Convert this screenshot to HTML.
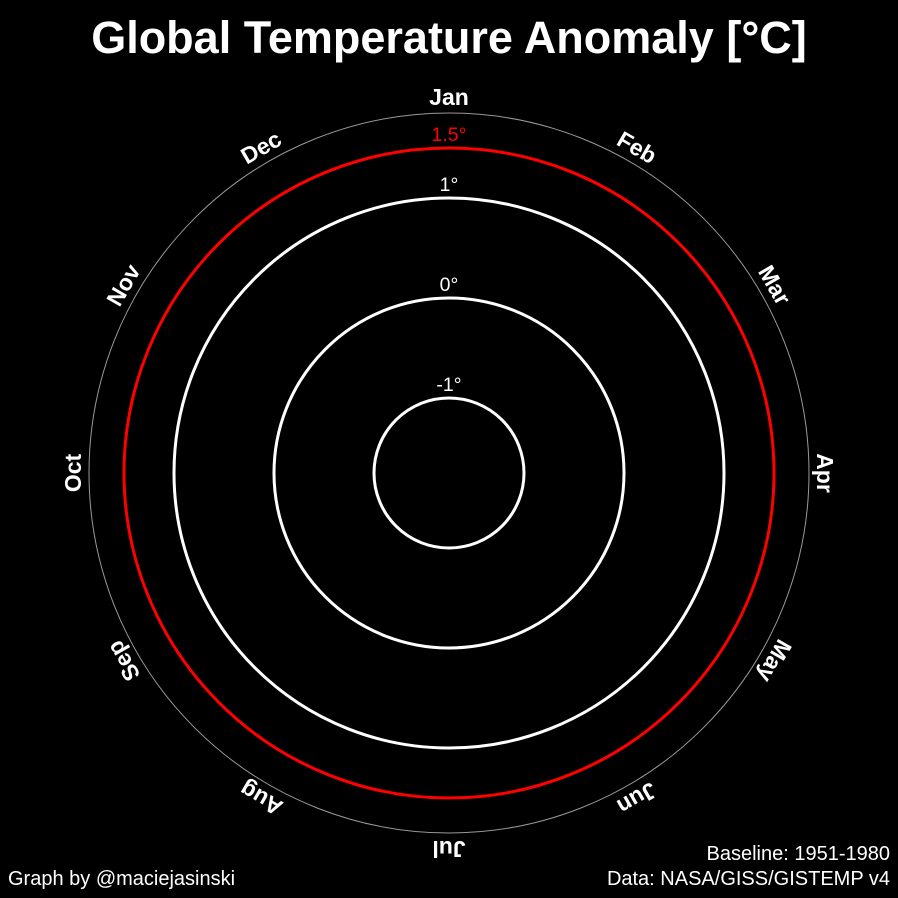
<!DOCTYPE html>
<html><head><meta charset="utf-8"><style>
html,body{margin:0;padding:0;background:#000;}
svg{display:block;font-family:"Liberation Sans",sans-serif;}
</style></head><body>
<svg width="898" height="898" viewBox="0 0 898 898">
<rect width="898" height="898" fill="#000"/>
<text x="449" y="53" text-anchor="middle" fill="#fff" font-size="45" font-weight="bold">Global Temperature Anomaly [°C]</text>
<g id="plot"></g>
<text x="8" y="885" fill="#fff" font-size="20">Graph by @maciejasinski</text>
<text x="890" y="860" text-anchor="end" fill="#fff" font-size="20">Baseline: 1951-1980</text>
<text x="890" y="885" text-anchor="end" fill="#fff" font-size="20">Data: NASA/GISS/GISTEMP v4</text>
</svg>
<script>
const months=["Jan","Feb","Mar","Apr","May","Jun","Jul","Aug","Sep","Oct","Nov","Dec"];
const ringValues=[-1,0,1,1.5];
const ringLabels=["-1°","0°","1°","1.5°"];
const cx=449, cy=473;
const rScale=t=>175+100*t;
const NS="http://www.w3.org/2000/svg";
const g=document.getElementById('plot');
function mk(tag,attrs){const e=document.createElementNS(NS,tag);for(const k in attrs)e.setAttribute(k,attrs[k]);g.appendChild(e);return e;}
const outer=mk('circle',{cx:cx,cy:cy,r:360,fill:'none',stroke:'#999','stroke-width':1});


ringValues.forEach((v,i)=>{
  const r=rScale(v);
  const red=v===1.5;
  const c=mk('circle',{cx:cx,cy:cy,r:r,fill:'none',stroke:red?'#f00':'#fff','stroke-width':3});
  
  
  const t=mk('text',{x:cx,y:cy-r-7,'text-anchor':'middle',fill:red?'#f00':'#fff','font-size':19.5});
  t.textContent=ringLabels[i];
  
  
});
months.forEach((m,i)=>{
  const a=i*30, rad=a*Math.PI/180, R=376;
  const x=cx+R*Math.sin(rad), y=cy-R*Math.cos(rad);
  const t=mk('text',{x:x,y:y,'text-anchor':'middle','dominant-baseline':'central',fill:'#fff','font-size':23,'font-weight':'bold',transform:`rotate(${a} ${x} ${y})`});
  t.textContent=m;
  
  
});
</script>
</body></html>
